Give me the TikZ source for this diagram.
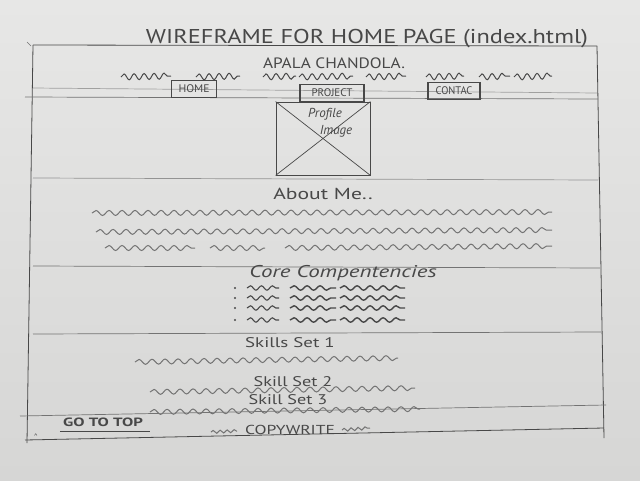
\documentclass[tikz,border=0pt]{standalone}
\usepackage{graphicx}
\usepackage{fontspec}
\setmainfont{PT Sans}
\usetikzlibrary{decorations.pathmorphing}
\definecolor{papertop}{RGB}{231,231,230}
\definecolor{paperbot}{RGB}{214,214,213}
\definecolor{pencil}{RGB}{72,72,72}
\definecolor{pencillight}{RGB}{115,115,115}
% wide, pencil-like lettering
\newcommand\wide[2]{\scalebox{#1}[1]{#2}}
\begin{document}
\begin{tikzpicture}[x=1pt,y=-1pt,
  rule/.style={draw=pencillight, line width=0.7pt},
  frame/.style={draw=pencil, line width=0.8pt},
  squig/.style={draw=pencillight, line width=1pt, decorate,
    decoration={snake, segment length=13pt, amplitude=2.5pt}},
  wave/.style 2 args={decoration={segment length=#1, amplitude=#2}},
  hand/.style={text=pencil, inner sep=0pt},
  navbox/.style={draw=pencil, line width=1.1pt, inner sep=1.5pt, text=pencil,
    font=\fontsize{11}{11}\selectfont, minimum height=17pt}
]
% paper
\shade[top color=papertop, bottom color=paperbot] (0,0) rectangle (640,480);
\useasboundingbox (0,0) rectangle (640,480);

% page frame
\draw[frame] (33,45) -- (597,46);
\draw[frame] (33,45) -- (27,443);
\draw[frame] (597,46) -- (604,438);
\draw[frame] (25,440) -- (604,428);
\draw[pencillight, line width=0.6pt] (27,42) -- (31,46);

% header rules
\draw[rule, draw opacity=0.6] (33,88) -- (597,93);
\draw[rule] (25,97) -- (598,99);
\draw[rule, draw opacity=0.7] (33,178) -- (598,180);
\draw[rule] (33,266) -- (600,268);
\draw[rule] (33,334) -- (601,332);
\draw[rule] (20,416) -- (606,405);

% title and name
\node[hand, font=\fontsize{20}{20}\selectfont] (title) at (367,39) {\wide{1.22}{WIREFRAME FOR HOME PAGE (index.html)}};
\node[hand, font=\fontsize{15}{15}\selectfont] (name) at (334,63) {\wide{1.15}{APALA CHANDOLA.}};

% header squiggles
\foreach \a/\b in {121/171, 196/240, 263/296, 299/353, 366/406, 426/464, 479/510, 514/552}
  \draw[squig, draw=pencil, wave={10pt}{3pt}] (\a,77) -- (\b,76);

% navigation
\node[navbox, minimum width=45pt] (home) at (194,89) {\wide{1.05}{HOME}};
\node[navbox, minimum width=64pt] (proj) at (332,93) {\wide{1.0}{PROJECT}};
\node[navbox, minimum width=52pt] (cont) at (454,91) {\wide{0.95}{CONTAC}};

% profile image placeholder
\node[draw=pencil, line width=0.8pt, minimum width=94pt, minimum height=73pt, inner sep=0pt] (img) at (323,138.5) {};
\draw[pencil, line width=0.7pt] (img.north west) -- (img.south east);
\draw[pencil, line width=0.7pt] (img.north east) -- (img.south west);
\node[hand, font=\fontsize{13}{13}\selectfont\itshape] (prof) at (325,114) {Profile};
\node[hand, font=\fontsize{13}{13}\selectfont\itshape] (pimg) at (336,131) {Image};

% about me
\node[hand, font=\fontsize{16}{16}\selectfont] (about) at (323,194) {\wide{1.35}{About Me..}};
\draw[squig] (92,213) -- (552,212);
\draw[squig] (96,232) -- (552,230);
\draw[squig] (105,248) -- (195,248);
\draw[squig] (210,248) -- (265,248);
\draw[squig] (285,248) -- (552,246);

% core competencies
\node[hand, font=\fontsize{17}{17}\selectfont\itshape] (core) at (343,273) {\wide{1.35}{Core Compentencies}};
\foreach \y in {288,298,308,320}{
  \fill[pencil] (235,\y) circle (1.1pt);
  \draw[squig, draw=pencil, wave={11pt}{2.2pt}, line width=1.1pt] (247,\y) -- (279,\y);
  \draw[squig, draw=pencil, wave={13pt}{2.2pt}, line width=1.4pt] (290,\y) -- (336,\y);
  \draw[squig, draw=pencil, wave={13pt}{2.2pt}, line width=1.4pt] (340,\y) -- (405,\y);
}

% skill sets
\node[hand, font=\fontsize{14}{14}\selectfont] (sk1) at (290,343) {\wide{1.35}{Skills Set 1}};
\draw[squig] (135,362) -- (398,358);
\node[hand, font=\fontsize{14}{14}\selectfont] (sk2) at (293,382) {\wide{1.3}{Skill Set 2}};
\draw[squig] (150,392) -- (415,388);
\node[hand, font=\fontsize{14}{14}\selectfont] (sk3) at (288,400) {\wide{1.3}{Skill Set 3}};
\draw[squig] (150,412) -- (420,409);

% footer
\node[hand, font=\fontsize{12}{12}\selectfont\bfseries] (top) at (103,422) {\wide{1.4}{GO TO TOP}};
\draw[pencil, line width=1.4pt] (top.south west) ++(-3,5) coordinate (ul) -- ++(90,0) coordinate (ur);
\node[hand, font=\fontsize{13}{13}\selectfont] (copy) at (290,430) {\wide{1.35}{COPYWRITE}};
\draw[squig, wave={7pt}{1.5pt}] (211,432) -- (237,431);
\draw[squig, wave={7pt}{1.5pt}] (342,430) -- (370,428);
\node[hand, font=\fontsize{8}{8}\selectfont] (caret) at (36,437) {\textasciicircum};
\end{tikzpicture}
\end{document}
